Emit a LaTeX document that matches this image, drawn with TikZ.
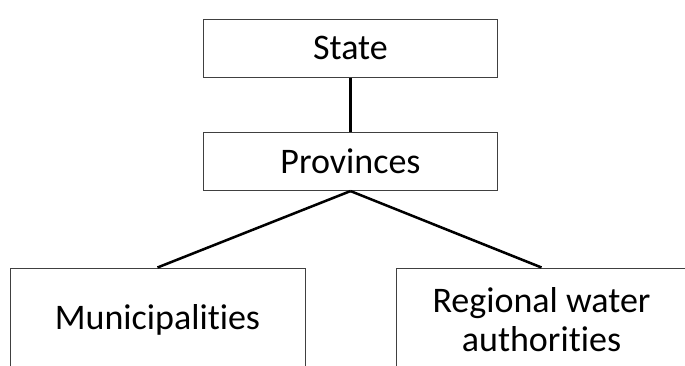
\documentclass[tikz,border=0pt]{standalone}
\usepackage{fontspec}
\setmainfont{Carlito}[Ligatures=NoCommon]
\begin{document}
\begin{tikzpicture}[x=0.75pt,y=-0.75pt,
  box/.style={draw=black!75, line width=0.75pt, fill=white, inner sep=0pt,
    align=center, font=\fontsize{27}{29.25}\selectfont},
  link/.style={line width=1.9pt, black}]
\useasboundingbox (0,0) rectangle (685,365);
% hierarchy levels
\node[box, minimum width=220.9pt, minimum height=43.5pt] (state) at (350.5,48) {State};
\node[box, minimum width=221pt, minimum height=43.9pt] (prov) at (350.5,161.3) {Provinces};
\node[box, minimum width=221.25pt, minimum height=78pt] (muni) at (157.5,320) {Municipalities};
\node[box, minimum width=218.25pt, minimum height=78pt] (reg) at (541.5,320) {Regional water\\authorities};
% connectors
\draw[link] (state.south) -- (prov.north);
\draw[link] (prov.south) -- (muni.north);
\draw[link] (prov.south) -- (reg.north);
\end{tikzpicture}
\end{document}
